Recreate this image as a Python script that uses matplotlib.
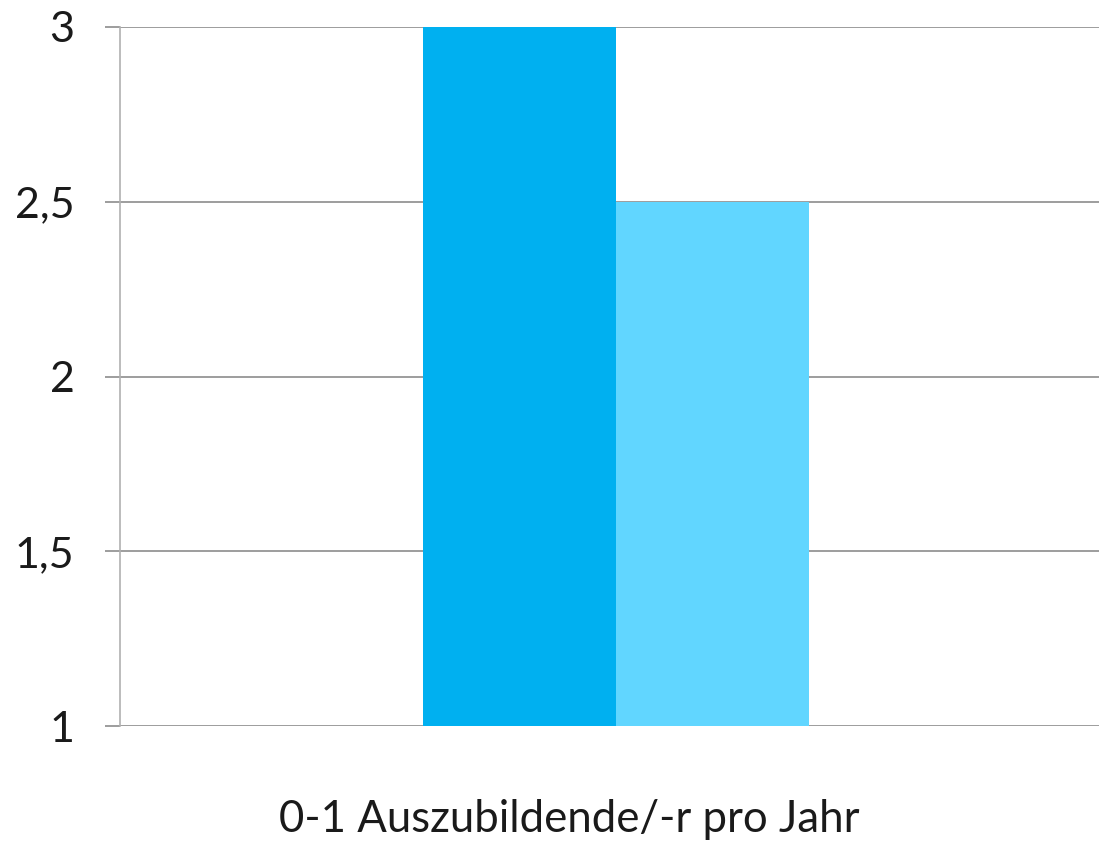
import matplotlib.pyplot as plt

# data
category = "0-1 Auszubildende/-r pro Jahr"
series_values = [3.0, 2.5]
series_colors = ["#00B0F0", "#61D6FF"]
y_ticks = [1, 1.5, 2, 2.5, 3]
y_tick_labels = ["1", "1,5", "2", "2,5", "3"]

plt.rcParams['font.family'] = ['Lato', 'DejaVu Sans']

W, H = 1099, 842
fig = plt.figure(figsize=(W / 100, H / 100), dpi=100)
ax = fig.add_axes([120 / W, 1 - 726 / H, 1 - 120 / W, (726 - 27) / H])

bar_w = 0.195
offsets = [-bar_w / 2, bar_w / 2]
for off, val, col in zip(offsets, series_values, series_colors):
    ax.bar(off, val - 1, bottom=1, width=bar_w, color=col, zorder=2)

ax.set_xlim(-0.5, (W - 616) / 992)
ax.set_ylim(1, 3)
ax.set_yticks(y_ticks)
ax.set_yticklabels(y_tick_labels, fontsize=31, color='#1a1a1a')
ax.set_xticks([])

ax.yaxis.grid(True, color='#8c8c8c', linewidth=1.2, zorder=0)
ax.set_axisbelow(True)
for s in ['top', 'right', 'bottom']:
    ax.spines[s].set_visible(False)
ax.spines['left'].set_color('#b0b0b0')
ax.spines['left'].set_linewidth(1.2)
ax.tick_params(axis='y', length=10.8, width=1.2, color='#8c8c8c', pad=22)

fig.text(569 / W, 1 - 820 / H, category, ha='center', va='center',
         fontsize=31.5, color='#1a1a1a')

fig.savefig('out.png', dpi=100)
